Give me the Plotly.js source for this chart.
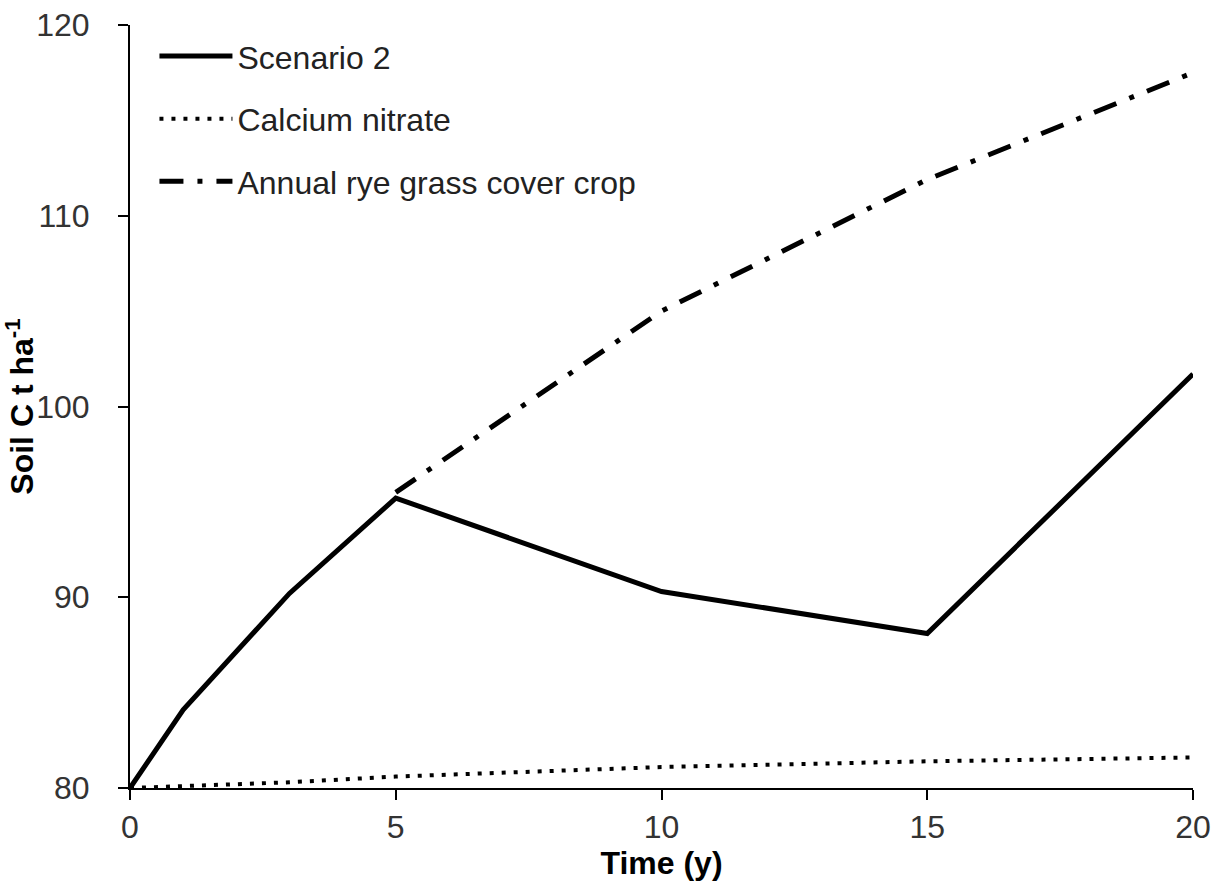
<!DOCTYPE html>
<html>
<head>
<meta charset="utf-8">
<script src="https://cdn.plot.ly/plotly-3.0.1.min.js"></script>
<style>html,body{margin:0;padding:0;background:#fff;}#chart{width:1222px;height:882px;}</style>
</head>
<body>
<div id="chart"></div>
<script>
var seriesNames = ["Scenario 2", "Calcium nitrate", "Annual rye grass cover crop"];
var scenarioX = [0, 1, 3, 5, 10, 15, 20];
var scenarioY = [80, 84.1, 90.2, 95.2, 90.3, 88.1, 101.7];
var calciumX = [0, 1, 3, 5, 10, 15, 20];
var calciumY = [80, 80.1, 80.3, 80.6, 81.1, 81.4, 81.6];
var ryeX = [5, 10, 15, 20];
var ryeY = [95.5, 105.0, 111.9, 117.5];
var xTicks = [0, 5, 10, 15, 20];
var yTicks = [80, 90, 100, 110, 120];

var font = "Liberation Sans, Arial, sans-serif";
var traces = [
  {x: scenarioX, y: scenarioY, name: seriesNames[0], mode: "lines", legendgroup: "a",
   line: {color: "#000", width: 5}},
  {x: calciumX, y: calciumY, name: seriesNames[1], mode: "lines", legendgroup: "b",
   line: {color: "#000", width: 4, dash: "4px,8px"}},
  {x: ryeX, y: ryeY, name: seriesNames[2], mode: "lines", legendgroup: "c",
   line: {color: "#000", width: 5, dash: "24px,14px,5px,14px"}}
];
var layout = {
  width: 1222, height: 882,
  margin: {l: 130, r: 29, t: 25, b: 94},
  paper_bgcolor: "#fff", plot_bgcolor: "#fff",
  font: {family: font, color: "#000", size: 32},
  showlegend: true,
  legend: {x: 0.023, y: 0.995, xanchor: "left", yanchor: "top", bgcolor: "rgba(0,0,0,0)",
           font: {family: font, size: 32, color: "#222"}, traceorder: "grouped",
           tracegroupgap: 18, itemwidth: 73},
  xaxis: {range: [0, 20], tickvals: xTicks, ticktext: xTicks.map(String), showgrid: false, zeroline: false,
          showline: true, linecolor: "#000", linewidth: 2, ticks: "outside", ticklen: 10, tickwidth: 2, tickcolor: "#000",
          tickfont: {family: font, size: 32, color: "#333"},
          title: {text: "<b>Time (y)</b>", font: {family: font, size: 32, color: "#000"}, standoff: 2}},
  yaxis: {range: [80, 120], tickvals: yTicks, ticktext: yTicks.map(String), showgrid: false, zeroline: false,
          showline: true, linecolor: "#000", linewidth: 2, ticks: "outside", ticklen: 10, tickwidth: 2, tickcolor: "#000",
          ticklabelstandoff: 22,
          tickfont: {family: font, size: 32, color: "#333"},
          title: {text: "<b>Soil C t ha<sup>-1</sup></b>", font: {family: font, size: 32, color: "#000"}, standoff: 8}}
};
Plotly.newPlot("chart", traces, layout, {displayModeBar: false, staticPlot: true});
</script>
</body>
</html>
